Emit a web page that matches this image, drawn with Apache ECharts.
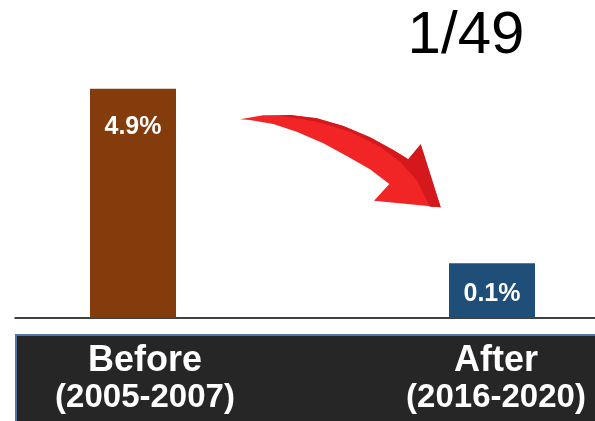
<!DOCTYPE html>
<html>
<head>
<meta charset="utf-8">
<script src="https://cdn.jsdelivr.net/npm/echarts@6/dist/echarts.min.js"></script>
<style>
html,body{margin:0;padding:0;background:#fff;}
#chart{width:595px;height:421px;}
</style>
</head>
<body>
<div id="chart"></div>
<script>
// ---- data ----
var categories = ['Before', 'After'];
var periods = ['(2005-2007)', '(2016-2020)'];
var rateValues = [4.9, 0.1];          // percentages shown on the bars
var drawnHeights = [4.9, 1.17];        // bar heights as drawn in the original (not to scale)
var barColors = ['#843C0C', '#1F4E79'];
var headline = '1/49';

var FONT = '"Liberation Sans", Arial, sans-serif';

var chart = echarts.init(document.getElementById('chart'), null, {renderer: 'canvas'});

var barData = drawnHeights.map(function (h, i) {
  return {
    value: h,
    itemStyle: {color: barColors[i]},
    label: {distance: i === 0 ? 26 : 18}
  };
});

var labelData = categories.map(function (c, i) {
  return {value: c, textStyle: {padding: i === 0 ? [0, 0, 0, 24] : [0, 0, 0, 8]}};
});

// arrow outline (decoration)
var arrowOuter = [[240,119.3],[263.3,115.3],[290,115],[316.7,118.3],[343.3,126],[370,137.3],[393.3,150],[408.3,159.3],
  [420.7,144.3],[440.7,207.3],[374,200.7],[389.3,184],[370,169.3],[346.7,156],[323.3,143.3],[296.7,131.7],[273.3,124],[250,120]];
var arrowDark = [[280,115.5],[290,115],[316.7,118.3],[343.3,126],[370,137.3],[393.3,150],[408.3,159.3],[420.7,144.3],[440.7,207.3],
  [430,206.7],[416.7,180],[400,161.7],[380,146.7],[350,131.7],[316.7,121.7]];

var option = {
  animation: false,
  backgroundColor: '#ffffff',
  grid: [
    {left: -46.5, right: -76.5, top: 84, bottom: 103, outerBoundsMode: 'none', containLabel: false},
    {left: 15, right: 0, top: 84, bottom: 103, outerBoundsMode: 'none', containLabel: false}
  ],
  xAxis: [
    {
      type: 'category',
      gridIndex: 0,
      data: labelData,
      axisLine: {show: false},
      axisTick: {show: false},
      axisLabel: {
        margin: 24,
        interval: 0,
        formatter: function (v, i) { return '{a|' + v + '}\n{b|' + periods[i] + '}'; },
        rich: {
          a: {color: '#ffffff', fontFamily: FONT, fontWeight: 'bold', fontSize: 36, lineHeight: 38},
          b: {color: '#ffffff', fontFamily: FONT, fontWeight: 'bold', fontSize: 33, lineHeight: 36}
        }
      }
    },
    {
      type: 'category',
      gridIndex: 1,
      data: categories,
      axisLine: {show: true, lineStyle: {color: '#000000', width: 1.5}},
      axisTick: {show: false},
      axisLabel: {show: false}
    }
  ],
  yAxis: [
    {type: 'value', gridIndex: 0, min: 0, max: 5, show: false, splitLine: {show: false}},
    {type: 'value', gridIndex: 1, min: 0, max: 5, show: false, splitLine: {show: false}}
  ],
  series: [
    {
      type: 'bar',
      xAxisIndex: 0,
      yAxisIndex: 0,
      barWidth: 86,
      data: barData,
      label: {
        show: true,
        position: 'insideTop',
        color: '#ffffff',
        fontFamily: FONT,
        fontWeight: 'bold',
        fontSize: 25,
        formatter: function (p) { return rateValues[p.dataIndex].toFixed(1) + '%'; }
      }
    }
  ],
  graphic: [
    {
      type: 'rect',
      z: -10,
      shape: {x: 16, y: 335, width: 590, height: 100},
      style: {fill: '#262626', stroke: '#4F78A8', lineWidth: 2}
    },
    {
      type: 'text',
      style: {
        text: headline,
        x: 466, y: 6,
        textAlign: 'center',
        textVerticalAlign: 'top',
        font: 'normal 60px ' + FONT,
        fill: '#000000'
      }
    },
    {
      type: 'polygon',
      shape: {points: arrowOuter},
      style: {fill: '#F22526'}
    },
    {
      type: 'polygon',
      shape: {points: arrowDark},
      style: {fill: '#D4181C'}
    }
  ]
};

chart.setOption(option);
</script>
</body>
</html>
